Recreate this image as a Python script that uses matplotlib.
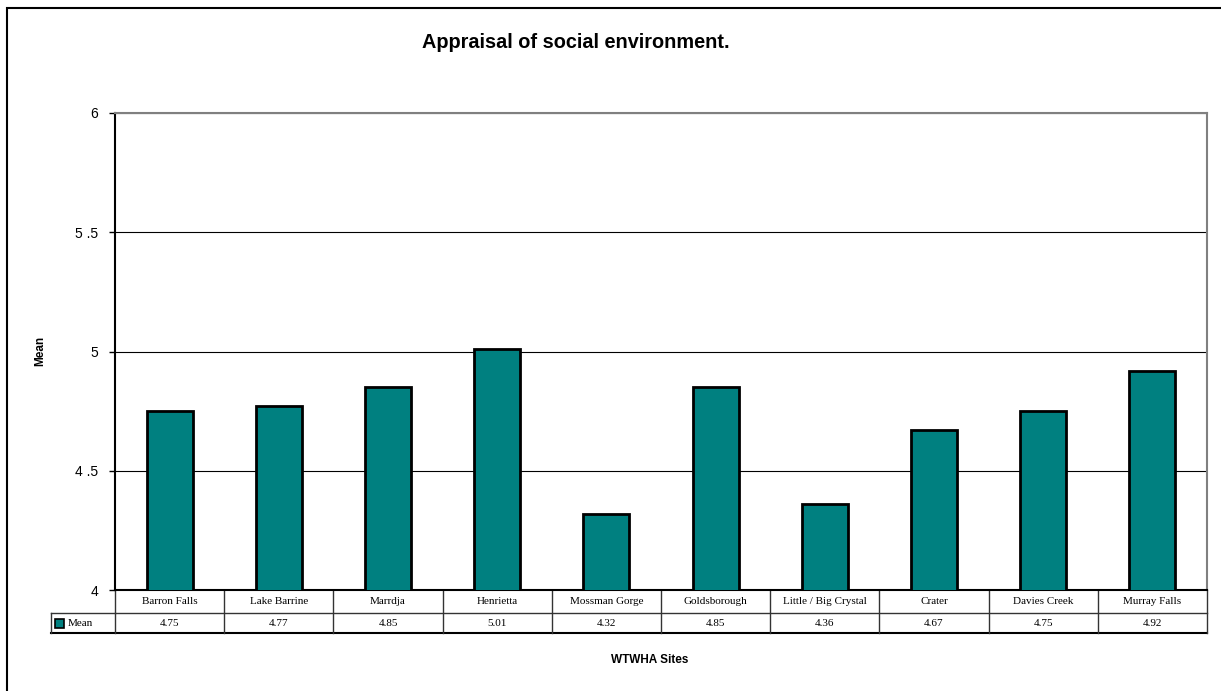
import matplotlib.pyplot as plt
from matplotlib.patches import Rectangle

# Datos del grafico
sitios = ["Barron Falls", "Lake Barrine", "Marrdja", "Henrietta", "Mossman Gorge",
          "Goldsborough", "Little / Big Crystal", "Crater", "Davies Creek", "Murray Falls"]
medias = [4.75, 4.77, 4.85, 5.01, 4.32, 4.85, 4.36, 4.67, 4.75, 4.92]
ticks_y = [4, 4.5, 5, 5.5, 6]
etiquetas_y = ["4", "4 .5", "5", "5 .5", "6"]

W, H = 1221, 691
fig = plt.figure(figsize=(W / 100, H / 100), dpi=100)
ax = fig.add_axes([115 / W, 1 - 590 / H, 1092 / W, 477 / H])

teal = "#008080"
x = list(range(len(sitios)))
ax.bar(x, medias, width=0.42, color=teal, edgecolor="black", linewidth=2, zorder=3)

ax.set_xlim(-0.5, len(sitios) - 0.5)
ax.set_ylim(4, 6)
ax.set_yticks(ticks_y, labels=etiquetas_y, fontsize=10, family="Liberation Sans")
ax.tick_params(axis="y", length=4, width=1, pad=8)
ax.set_xticks([])
ax.yaxis.grid(True, color="black", linewidth=0.8)
ax.set_axisbelow(True)

for lado in ["top", "right"]:
    ax.spines[lado].set_color("#808080")
    ax.spines[lado].set_linewidth(1.5)
ax.spines["left"].set_linewidth(1.5)
ax.spines["bottom"].set_linewidth(1.5)

# Tabla de datos debajo del eje
tr = ax.get_xaxis_transform()
h1 = 23 / 477
h2 = 20 / 477
izq = -0.5 - 64 / 109.2
lc = dict(color="#333333", linewidth=1, transform=tr, clip_on=False)
ax.plot([-0.5, len(sitios) - 0.5], [-h1, -h1], **lc)
ax.plot([izq, len(sitios) - 0.5], [-h1 - h2, -h1 - h2], color="black", linewidth=1.5,
        transform=tr, clip_on=False)
ax.plot([izq, -0.5], [-h1, -h1], **lc)
ax.plot([izq, izq], [-h1, -h1 - h2], **lc)
for i in range(len(sitios) + 1):
    ax.plot([i - 0.5, i - 0.5], [0, -h1 - h2], **lc)

for i, (s, m) in enumerate(zip(sitios, medias)):
    ax.text(i, -h1 / 2, s, ha="center", va="center", fontsize=8,
            family="Liberation Serif", transform=tr)
    ax.text(i, -h1 - h2 / 2, f"{m:.2f}", ha="center", va="center", fontsize=8,
            family="Liberation Serif", transform=tr)

# Leyenda en la celda
fig.patches.append(Rectangle((55 / W, 1 - 628 / H), 9 / W, 9 / H, facecolor=teal,
                             edgecolor="black", linewidth=1.2, transform=fig.transFigure))
fig.text(68 / W, 1 - 623 / H, "Mean", ha="left", va="center", fontsize=8,
         family="Liberation Serif")

# Titulos
fig.text(576 / W, 1 - 43 / H, "Appraisal of social environment.", ha="center", va="center",
         fontsize=14.3, fontweight="bold", family="Liberation Sans")
fig.text(40 / W, 1 - 351 / H, "Mean", ha="center", va="center", rotation=90,
         fontsize=8.5, fontweight="bold", family="Liberation Sans")
fig.text(650 / W, 1 - 660 / H, "WTWHA Sites", ha="center", va="center",
         fontsize=8.5, fontweight="bold", family="Liberation Sans")

# Marco exterior
fig.patches.append(Rectangle((7 / W, -0.1), 1.2, 1 - 8 / H + 0.1, fill=False,
                             edgecolor="black", linewidth=1.5, transform=fig.transFigure))

plt.savefig("out.png", dpi=100)
